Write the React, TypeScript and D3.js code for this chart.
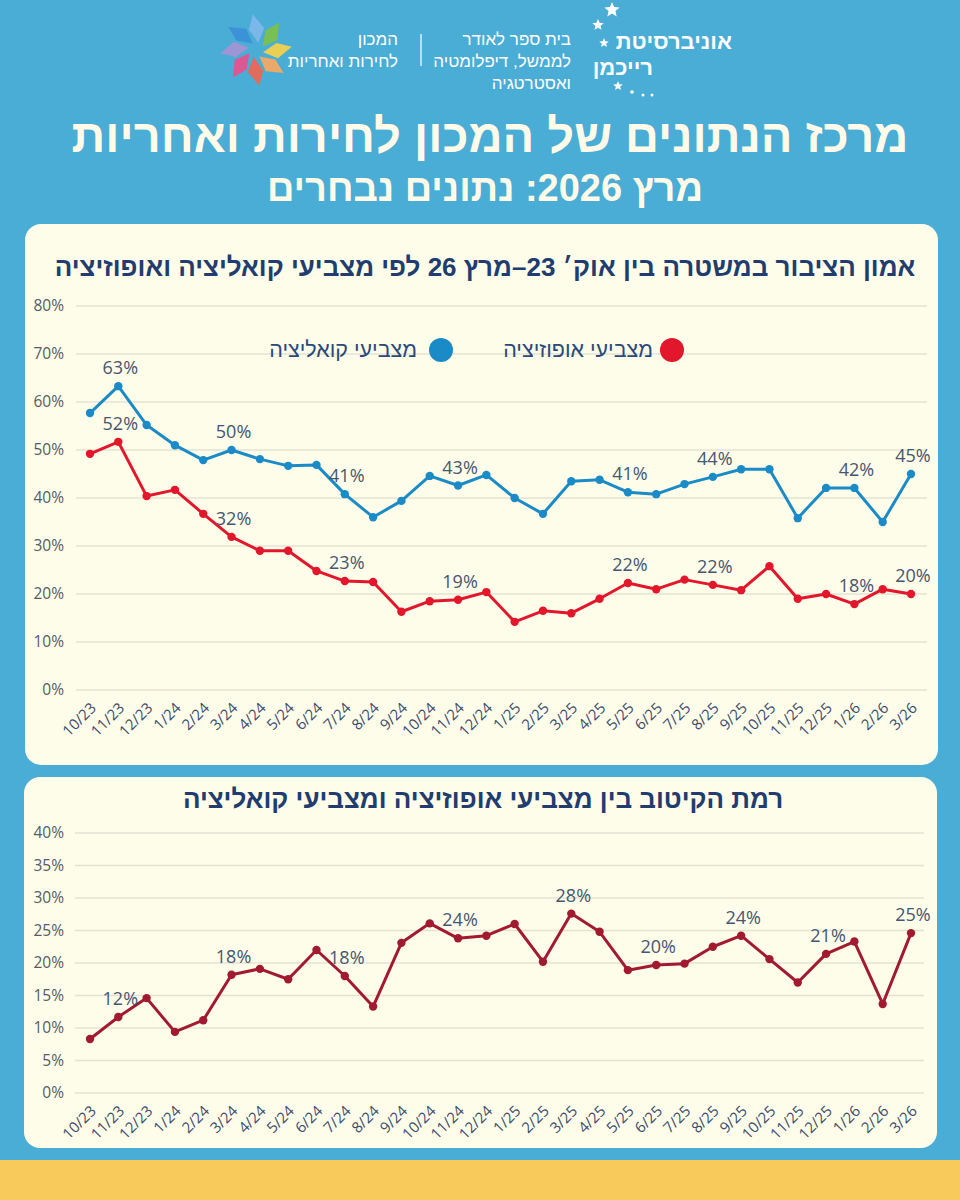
import React from 'react';
import * as d3 from 'd3';

// months Oct 2023 – Mar 2026
const months = [
    '10/23', '11/23', '12/23', '1/24', '2/24', '3/24', '4/24', '5/24', '6/24', '7/24',
    '8/24', '9/24', '10/24', '11/24', '12/24', '1/25', '2/25', '3/25', '4/25', '5/25',
    '6/25', '7/25', '8/25', '9/25', '10/25', '11/25', '12/25', '1/26', '2/26', '3/26',
];

// trust in police, coalition voters (%)
const coalition = [
    57.7, 63.3, 55.2, 51.0, 47.9, 50.0, 48.1, 46.7, 46.9, 40.8,
    36.0, 39.4, 44.6, 42.6, 44.8, 40.0, 36.7, 43.5, 43.8, 41.2,
    40.8, 42.9, 44.4, 46.0, 46.0, 35.8, 42.1, 42.1, 35.0, 45.0,
];

// trust in police, opposition voters (%)
const opposition = [
    49.2, 51.7, 40.4, 41.7, 36.7, 31.9, 29.0, 29.0, 24.8, 22.7,
    22.5, 16.3, 18.5, 18.8, 20.4, 14.2, 16.5, 16.0, 19.0, 22.3,
    21.0, 23.0, 21.9, 20.8, 25.8, 19.0, 20.0, 17.9, 21.0, 20.0,
];

// polarization level (%)
const polarization = [
    8.3, 11.7, 14.6, 9.4, 11.2, 18.2, 19.1, 17.5, 22.0, 18.0,
    13.3, 23.1, 26.1, 23.8, 24.2, 26.0, 20.2, 27.6, 24.8, 18.9,
    19.7, 19.9, 22.5, 24.2, 20.6, 17.0, 21.4, 23.3, 13.7, 24.6,
];

const trustTicks = [0, 10, 20, 30, 40, 50, 60, 70, 80];
const polarTicks = [0, 5, 10, 15, 20, 25, 30, 35, 40];

// which points carry a value label
const trustLabelIdx = [1, 5, 9, 13, 19, 22, 27, 29];
const polarLabelIdx = [1, 5, 9, 13, 17, 20, 23, 26, 29];

const BG = '#4aadd6';
const CARD = '#fdfde9';
const NAVY = '#213c6e';
const BLUE = '#1a8bc6';
const RED = '#e2172c';
const DARKRED = '#a11a30';
const LABEL = '#465670';
const GRID = '#e4e2d3';
const HEB = '"Liberation Sans", "DejaVu Sans", sans-serif';
const NUM = '"Open Sans", "Liberation Sans", sans-serif';

const petalColors = ['#3a8fd6', '#7fb9ea', '#7cc04a', '#f6d24a', '#f6a862', '#ef6550', '#e7508c', '#a592d4'];

const x = d3.scalePoint<string>().domain(months).range([90, 911]);

function Grid({ y, ticks, x0, x1 }: { y: d3.ScaleLinear<number, number>; ticks: number[]; x0: number; x1: number }) {
    return (
        <g>
            {ticks.map(t => (
                <g key={t}>
                    <line x1={x0} x2={x1} y1={y(t)} y2={y(t)} stroke={GRID} strokeWidth={1.3} />
                    <text x={64} y={y(t)} dy="0.35em" textAnchor="end" fontSize={15.5} fill="#555b66" fontFamily={NUM}>
                        {t}%
                    </text>
                </g>
            ))}
        </g>
    );
}

function MonthAxis({ y0 }: { y0: number }) {
    return (
        <g>
            {months.map(m => (
                <text
                    key={m}
                    transform={`translate(${(x(m) || 0) + 7},${y0 + 19}) rotate(-45)`}
                    textAnchor="end"
                    fontSize={15}
                    fill="#3b4b6e"
                    fontFamily={NUM}
                >
                    {m}
                </text>
            ))}
        </g>
    );
}

function Series({ values, y, color, labels }: { values: number[]; y: d3.ScaleLinear<number, number>; color: string; labels: number[] }) {
    const line = d3.line<number>()
        .x((_, i) => x(months[i]) || 0)
        .y(d => y(d));
    return (
        <g>
            <path d={line(values) || ''} fill="none" stroke={color} strokeWidth={3} strokeLinejoin="round" />
            {values.map((v, i) => (
                <circle key={i} cx={x(months[i])} cy={y(v)} r={4.2} fill={color} />
            ))}
            {labels.map(i => (
                <text
                    key={'l' + i}
                    x={(x(months[i]) || 0) + 2}
                    y={y(values[i]) - 12}
                    textAnchor="middle"
                    fontSize={18}
                    fill={LABEL}
                    fontFamily={NUM}
                >
                    {Math.round(values[i])}%
                </text>
            ))}
        </g>
    );
}

function Flower({ cx, cy }: { cx: number; cy: number }) {
    return (
        <g transform={`translate(${cx},${cy}) scale(1.05)`}>
            {petalColors.map((c, k) => (
                <path
                    key={k}
                    d="M7,1 L18,-10 L33,-9 L22,4 Z"
                    fill={c}
                    opacity={0.92}
                    transform={`rotate(${-125 + 45 * k})`}
                />
            ))}
        </g>
    );
}

function Star({ cx, cy, r }: { cx: number; cy: number; r: number }) {
    const pts = d3.range(10).map(i => {
        const a = -Math.PI / 2 + (i * Math.PI) / 5;
        const rr = i % 2 === 0 ? r : r * 0.45;
        return [cx + rr * Math.cos(a), cy + rr * Math.sin(a)];
    });
    return <polygon points={pts.map(p => p.join(',')).join(' ')} fill="#fff" />;
}

export default function App() {
    const y1 = d3.scaleLinear().domain([0, 80]).range([690, 306]);
    const y2 = d3.scaleLinear().domain([0, 40]).range([1093, 833]);

    return (
        <svg
            width={960}
            height={1200}
            viewBox="0 0 960 1200"
            style={{ position: 'absolute', left: 0, top: 0, display: 'block' }}
        >
            <rect width={960} height={1200} fill={BG} />
            <rect y={1160} width={960} height={40} fill="#f8c95b" />

            {/* header */}
            <Flower cx={256} cy={50} />
            <g fill="#fff" fontFamily={HEB} direction="rtl">
                <text x={398} y={45} textAnchor="start" fontSize={17}>המכון</text>
                <text x={398} y={67} textAnchor="start" fontSize={17}>לחירות ואחריות</text>
                <line x1={421} x2={421} y1={34} y2={66} stroke="#fff" strokeWidth={1.2} />
                <text x={571} y={45} textAnchor="start" fontSize={17}>בית ספר לאודר</text>
                <text x={571} y={67} textAnchor="start" fontSize={17}>לממשל, דיפלומטיה</text>
                <text x={571} y={89} textAnchor="start" fontSize={17}>ואסטרטגיה</text>
                <text x={732} y={49} textAnchor="start" fontSize={22} fontWeight={700}>אוניברסיטת</text>
                <text x={653} y={75} textAnchor="start" fontSize={22} fontWeight={700}>רייכמן</text>
            </g>
            <Star cx={612} cy={10} r={8} />
            <Star cx={598} cy={25} r={6} />
            <Star cx={604} cy={43} r={5} />
            <Star cx={618} cy={86} r={5} />
            <circle cx={632} cy={92} r={1.8} fill="#fff" />
            <circle cx={643} cy={95} r={1.5} fill="#fff" />
            <circle cx={652} cy={95} r={1.5} fill="#fff" />

            <text x={490} y={152} textAnchor="middle" direction="rtl" fontSize={47} fontWeight={900} fill="#fffbe8" fontFamily={HEB}>
                מרכז הנתונים של המכון לחירות ואחריות
            </text>
            <text x={485} y={201} textAnchor="middle" direction="rtl" fontSize={38} fontWeight={900} fill="#fffbe8" fontFamily={HEB}>
                מרץ 2026: נתונים נבחרים
            </text>

            {/* chart 1: trust in police */}
            <rect x={25} y={224} width={913} height={541} rx={16} fill={CARD} />
            <text x={485} y={276} textAnchor="middle" direction="rtl" fontSize={26} fontWeight={900} fill={NAVY} fontFamily={HEB}>
                אמון הציבור במשטרה בין אוק׳ 23–מרץ 26 לפי מצביעי קואליציה ואופוזיציה
            </text>
            <Grid y={y1} ticks={trustTicks} x0={76} x1={927} />

            <circle cx={672} cy={350} r={12} fill={RED} />
            <text x={653} y={357} textAnchor="start" direction="rtl" fontSize={21.5} fill="#2a4a7c" fontFamily={HEB}>מצביעי אופוזיציה</text>
            <circle cx={441} cy={350} r={12} fill={BLUE} />
            <text x={417} y={357} textAnchor="start" direction="rtl" fontSize={21.5} fill="#2a4a7c" fontFamily={HEB}>מצביעי קואליציה</text>

            <Series values={coalition} y={y1} color={BLUE} labels={trustLabelIdx} />
            <Series values={opposition} y={y1} color={RED} labels={trustLabelIdx} />
            <MonthAxis y0={690} />

            {/* chart 2: polarization */}
            <rect x={24} y={777} width={913} height={371} rx={16} fill={CARD} />
            <text x={483} y={808} textAnchor="middle" direction="rtl" fontSize={26} fontWeight={900} fill={NAVY} fontFamily={HEB}>
                רמת הקיטוב בין מצביעי אופוזיציה ומצביעי קואליציה
            </text>
            <Grid y={y2} ticks={polarTicks} x0={75} x1={924} />
            <Series values={polarization} y={y2} color={DARKRED} labels={polarLabelIdx} />
            <MonthAxis y0={1093} />
        </svg>
    );
}
